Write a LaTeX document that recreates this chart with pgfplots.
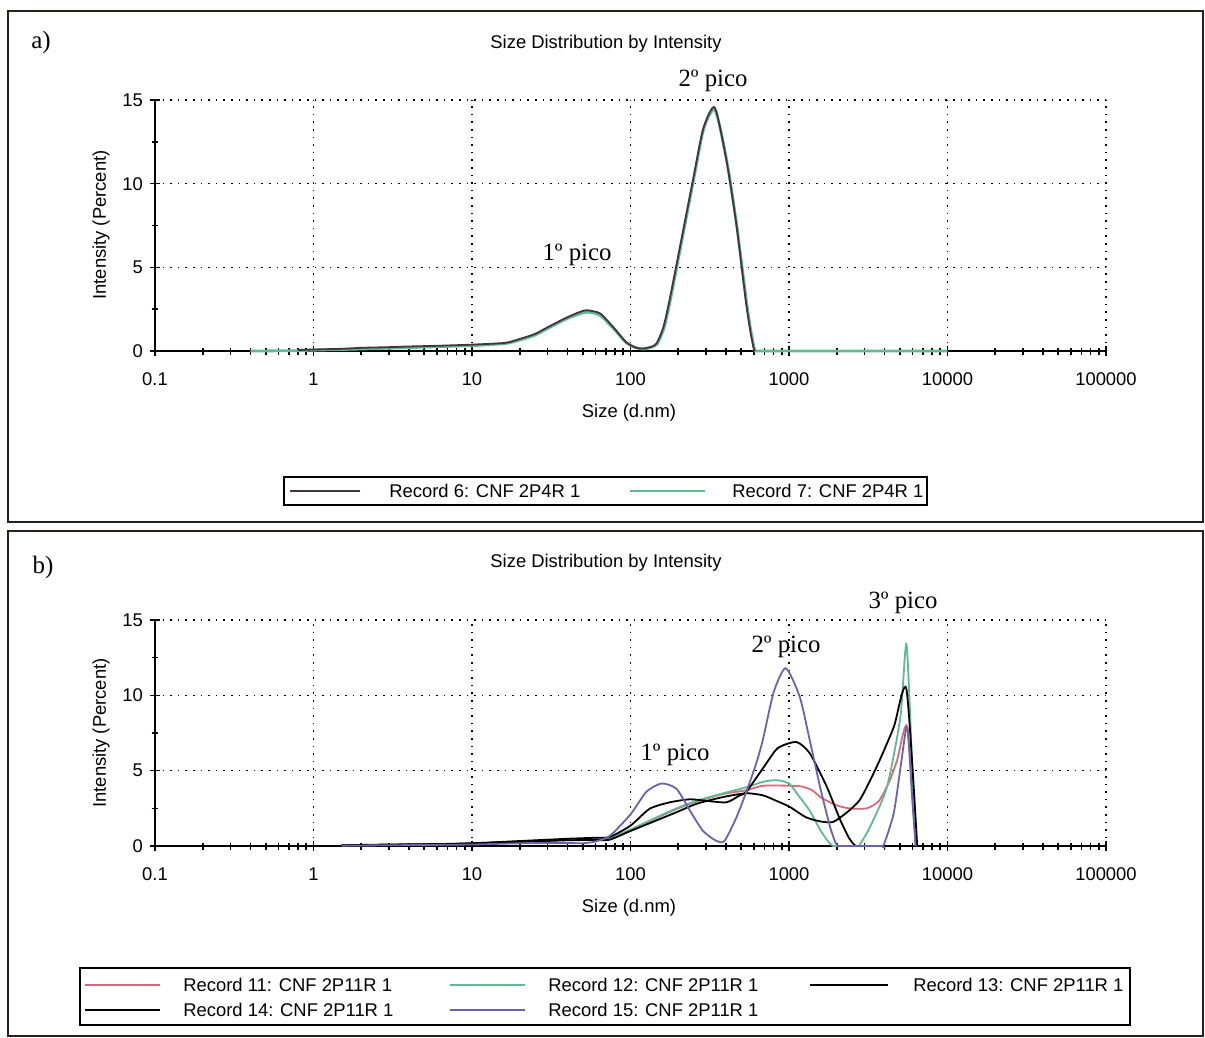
\documentclass[border=0pt]{standalone}
\usepackage{pgfplots}
\pgfplotsset{compat=1.18}
\usepackage{fontspec}
\setmainfont{Liberation Sans}
\newfontfamily\tms{Liberation Serif}
\definecolor{recA}{RGB}{70,50,60}
\definecolor{recG}{RGB}{95,185,145}
\definecolor{recP}{RGB}{215,105,120}
\definecolor{recV}{RGB}{105,100,170}
\definecolor{frm}{RGB}{40,30,30}
\begin{document}
\begin{tikzpicture}[x=0.5pt,y=-0.5pt]
\path[use as bounding box] (0,0) rectangle (1205,1038);
% frames
\draw[frm, line width=1.3pt] (8,11) rectangle (1203,522);
\draw[frm, line width=1.3pt] (8,531) rectangle (1203,1036);

% ---------------- panel a ----------------
\begin{axis}[
    scale only axis, width=475.5pt, height=125.5pt, at={(77.5pt,-175.5pt)}, anchor=south west,
    xmode=log, xmin=0.1, xmax=100000, ymin=0, ymax=15,
    axis x line=bottom, axis y line=left, axis line style={-, line width=1.1pt, black},
    xtick={0.1,1,10,100,1000,10000,100000},
    xticklabels={0.1,1,10,100,1000,10000,100000},
    ytick={0,5,10,15}, yticklabels={0,5,10,15},
    minor ytick={2.5,7.5,12.5},
    tick align=center,
    major tick length=5pt, minor tick length=3.5pt,
    every tick/.style={black, line width=0.8pt},
    grid=major,
    major grid style={black, line width=0.8pt, dash pattern=on 0.8pt off 3pt},
    tick label style={font=\fontsize{9.2}{11}\selectfont, black},
    xticklabel style={yshift=-5pt},
    clip=false]
\addplot[line width=1.4pt, smooth, tension=0.4, no markers, recG] coordinates {
(0.4,0) (0.8,0.02) (1,0.05) (2,0.12) (4,0.2) (6,0.26) (10,0.32) (15,0.42) (17,0.48)
(20,0.65) (25,0.95) (30,1.35) (40,1.95) (51,2.3) (58,2.28) (65,2.1) (78,1.35)
(94,0.5) (108,0.2) (122,0.12) (137,0.25) (148,0.45) (163,1.4) (178,3.0) (207,6.2)
(252,10.4) (290,13.3) (342,14.4) (406,11.3) (468,7.5) (538,3.0) (575,1.2) (600,0.25)
(612,0) (625,0) (700,0) (1000,0) (10000,0)};
\addplot[line width=0.9pt, smooth, tension=0.4, no markers, recA] coordinates {
(0.8,0.06) (1,0.09) (1.5,0.13) (2,0.19) (3,0.23) (4,0.27) (6,0.31) (10,0.38)
(15,0.46) (17,0.52) (20,0.72) (25,1.02) (30,1.42) (40,2.02) (51,2.42) (58,2.38)
(65,2.22) (78,1.42) (94,0.52) (108,0.2) (120,0.15) (135,0.25) (146,0.45) (161,1.4)
(176,3.0) (205,6.2) (250,10.4) (288,13.3) (340,14.55) (403,11.4) (465,7.6)
(534,3.0) (570,1.2) (596,0.25) (608,0)};
\end{axis}
\node[font=\tms\fontsize{12.5}{14}\selectfont] at (41,42) {a)};
\node[font=\fontsize{9.2}{11}\selectfont] at (606,44) {Size Distribution by Intensity};
\node[font=\tms\fontsize{12.4}{14}\selectfont] at (713,81) {2º pico};
\node[font=\tms\fontsize{12.4}{14}\selectfont] at (577,255) {1º pico};
\node[font=\fontsize{9.2}{11}\selectfont, rotate=90] at (101,225) {Intensity (Percent)};
\node[font=\fontsize{9.2}{11}\selectfont] at (629,413) {Size (d.nm)};
% legend a
\draw[black, line width=1.1pt] (284,477) rectangle (927,505);
\draw[recA, line width=1pt] (290,491) -- (360,491);
\node[anchor=west, inner sep=0, font=\fontsize{9.2}{11}\selectfont] at (389,491) {Record 6: CNF 2P4R 1};
\draw[recG, line width=1.2pt] (630,491) -- (705,491);
\node[anchor=west, inner sep=0, font=\fontsize{9.2}{11}\selectfont] at (732,491) {Record 7: CNF 2P4R 1};

% ---------------- panel b ----------------
\begin{axis}[
    scale only axis, width=475.5pt, height=113pt, at={(77.5pt,-423pt)}, anchor=south west,
    xmode=log, xmin=0.1, xmax=100000, ymin=0, ymax=15,
    axis x line=bottom, axis y line=left, axis line style={-, line width=1.1pt, black},
    xtick={0.1,1,10,100,1000,10000,100000},
    xticklabels={0.1,1,10,100,1000,10000,100000},
    ytick={0,5,10,15}, yticklabels={0,5,10,15},
    minor ytick={2.5,7.5,12.5},
    tick align=center,
    major tick length=5pt, minor tick length=3.5pt,
    every tick/.style={black, line width=0.8pt},
    grid=major,
    major grid style={black, line width=0.8pt, dash pattern=on 0.8pt off 3pt},
    tick label style={font=\fontsize{9.2}{11}\selectfont, black},
    xticklabel style={yshift=-5pt},
    clip=false]
% Record 11 (pink)
\addplot[line width=0.9pt, smooth, tension=0.4, no markers, recP] coordinates {
(1.5,0.05) (3,0.08) (6,0.12) (10,0.18) (20,0.3) (40,0.42) (60,0.45) (74,0.5)
(100,1.05) (146,1.85) (195,2.45) (261,2.95) (384,3.45) (538,3.7) (686,4.0)
(1000,4.0) (1200,3.95) (1400,3.7) (1600,3.2) (2000,2.7) (2400,2.5) (3090,2.5)
(3700,3.0) (4300,4.3) (4810,5.7) (5570,7.9) (6290,0)};
% Record 12 (green)
\addplot[line width=0.9pt, smooth, tension=0.4, no markers, recG] coordinates {
(1.5,0.04) (3,0.07) (6,0.1) (10,0.16) (20,0.28) (40,0.4) (60,0.44) (74,0.48)
(100,1.1) (146,1.9) (195,2.5) (261,3.0) (384,3.5) (538,3.9) (686,4.26) (832,4.37)
(1000,4.15) (1167,3.25) (1350,2.35) (1567,1.1) (1780,0.25) (1905,0) (2000,0) (2680,0) (2800,0.1) (3258,1.3)
(4160,3.96) (5050,8.6) (5510,13.4) (5990,5.3) (6290,0)};
% Record 13 (black)
\addplot[line width=0.9pt, smooth, tension=0.4, no markers, black] coordinates {
(1.5,0.05) (3,0.08) (6,0.11) (10,0.17) (20,0.27) (40,0.38) (60,0.4) (74,0.42)
(100,1.0) (146,1.7) (195,2.24) (261,2.8) (384,3.25) (538,3.5) (686,3.36) (832,3.0)
(1010,2.6) (1284,1.9) (1600,1.62) (1900,1.6) (2300,2.2) (2812,3.1) (3590,5.3)
(4584,7.9) (5510,10.4) (6440,0)};
% Record 14 (black)
\addplot[line width=0.9pt, smooth, tension=0.4, no markers, black] coordinates {
(1.5,0.05) (3,0.1) (6,0.13) (10,0.18) (20,0.33) (40,0.48) (60,0.55) (74,0.6)
(100,1.35) (132,2.47) (177,2.9) (237,3.1) (301,3.0) (403,2.9) (489,3.36) (538,3.6)
(700,5.3) (850,6.5) (1113,6.9) (1353,6.15) (1727,3.96) (2099,1.76) (2400,0.5) (2600,0.05) (2680,0)};
% Record 15 (purple)
\addplot[line width=0.9pt, smooth, tension=0.4, no markers, recV] coordinates {
(1.5,0.03) (3,0.05) (10,0.1) (20,0.18) (40,0.2) (50,0.18) (60,0.3) (74,0.67)
(100,2.1) (126,3.6) (157,4.15) (195,3.8) (237,2.35) (287,1.0) (348,0.34) (392,0.34)
(466,1.9) (538,3.6) (622,5.5) (686,7.1) (800,10.2) (953,11.8) (1169,9.9) (1353,7.0)
(1567,3.96) (1813,1.3) (1960,0.25) (2048,0) (2150,0) (3800,0) (3954,0.05) (4584,2.2) (5100,5.5) (5570,7.9) (6000,3.0) (6300,0)};
\end{axis}
\node[font=\tms\fontsize{12.5}{14}\selectfont] at (43,567) {b)};
\node[font=\fontsize{9.2}{11}\selectfont] at (606,563) {Size Distribution by Intensity};
\node[font=\tms\fontsize{12.4}{14}\selectfont] at (903,603) {3º pico};
\node[font=\tms\fontsize{12.4}{14}\selectfont] at (786,647) {2º pico};
\node[font=\tms\fontsize{12.4}{14}\selectfont] at (675,755) {1º pico};
\node[font=\fontsize{9.2}{11}\selectfont, rotate=90] at (101,733) {Intensity (Percent)};
\node[font=\fontsize{9.2}{11}\selectfont] at (629,908) {Size (d.nm)};
% legend b
\draw[black, line width=1.1pt] (80,968) rectangle (1130,1025);
\draw[recP, line width=1pt] (85,985) -- (160,985);
\node[anchor=west, inner sep=0, font=\fontsize{9.2}{11}\selectfont] at (183,985) {Record 11: CNF 2P11R 1};
\draw[recG, line width=1pt] (450,985) -- (525,985);
\node[anchor=west, inner sep=0, font=\fontsize{9.2}{11}\selectfont] at (548,985) {Record 12: CNF 2P11R 1};
\draw[black, line width=1pt] (810,985) -- (888,985);
\node[anchor=west, inner sep=0, font=\fontsize{9.2}{11}\selectfont] at (913,985) {Record 13: CNF 2P11R 1};
\draw[black, line width=1pt] (85,1010) -- (160,1010);
\node[anchor=west, inner sep=0, font=\fontsize{9.2}{11}\selectfont] at (183,1010) {Record 14: CNF 2P11R 1};
\draw[recV, line width=1pt] (450,1010) -- (525,1010);
\node[anchor=west, inner sep=0, font=\fontsize{9.2}{11}\selectfont] at (548,1010) {Record 15: CNF 2P11R 1};
\end{tikzpicture}
\end{document}
